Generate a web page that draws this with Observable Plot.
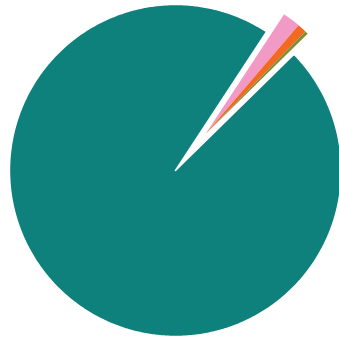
<!DOCTYPE html>
<html>
<head>
<meta charset="utf-8">
<script src="https://cdn.jsdelivr.net/npm/d3@7"></script>
<script src="https://cdn.jsdelivr.net/npm/@observablehq/plot@0.6"></script>
<style>
html,body{margin:0;padding:0;background:#fff;}
</style>
</head>
<body>
<div id="chart"></div>
<script>
const categories = ["Pink", "Orange", "Green", "Teal"];
const values = [2.0, 1.05, 0.35, 96.6];
const colors = ["#f29ac6", "#f26a22", "#7d8f34", "#0e817d"];
const pulled = [true, true, true, false];

const startDeg = 33.3;
const total = d3.sum(values);
const rad = Math.PI / 180;

// build slice polygons from values
let acc = startDeg;
const slices = categories.map((c, i) => {
  const a0 = acc;
  const a1 = acc + values[i] / total * 360;
  acc = a1;
  return {name: c, a0, a1, color: colors[i], pulled: pulled[i]};
});
const pullGroup = slices.filter(s => s.pulled);
const pullMid = (pullGroup[0].a0 + pullGroup[pullGroup.length - 1].a1) / 2;
const pullDist = 0.285;
const pullR = 0.862;

function polygon(s) {
  const r = s.pulled ? pullR : 1;
  const ox = s.pulled ? pullDist * Math.sin(pullMid * rad) : 0;
  const oy = s.pulled ? pullDist * Math.cos(pullMid * rad) : 0;
  const pts = [{name: s.name, x: ox, y: oy}];
  const n = Math.max(2, Math.ceil((s.a1 - s.a0) / 0.5));
  for (let k = 0; k <= n; k++) {
    const a = (s.a0 + (s.a1 - s.a0) * k / n) * rad;
    pts.push({name: s.name, x: ox + r * Math.sin(a), y: oy + r * Math.cos(a)});
  }
  pts.push({name: s.name, x: ox, y: oy});
  return pts;
}

const marks = slices.map(s => Plot.line(polygon(s), {
  x: "x", y: "y", fill: s.color, stroke: "white", strokeWidth: s.pulled ? 0 : 1.5, curve: "linear"
}));

const chart = Plot.plot({
  width: 339,
  height: 337,
  margin: 0,
  x: {domain: [-1.054, 0.988], axis: null},
  y: {domain: [-1.006, 1.024], axis: null},
  marks
});
document.getElementById("chart").appendChild(chart);
</script>
</body>
</html>
